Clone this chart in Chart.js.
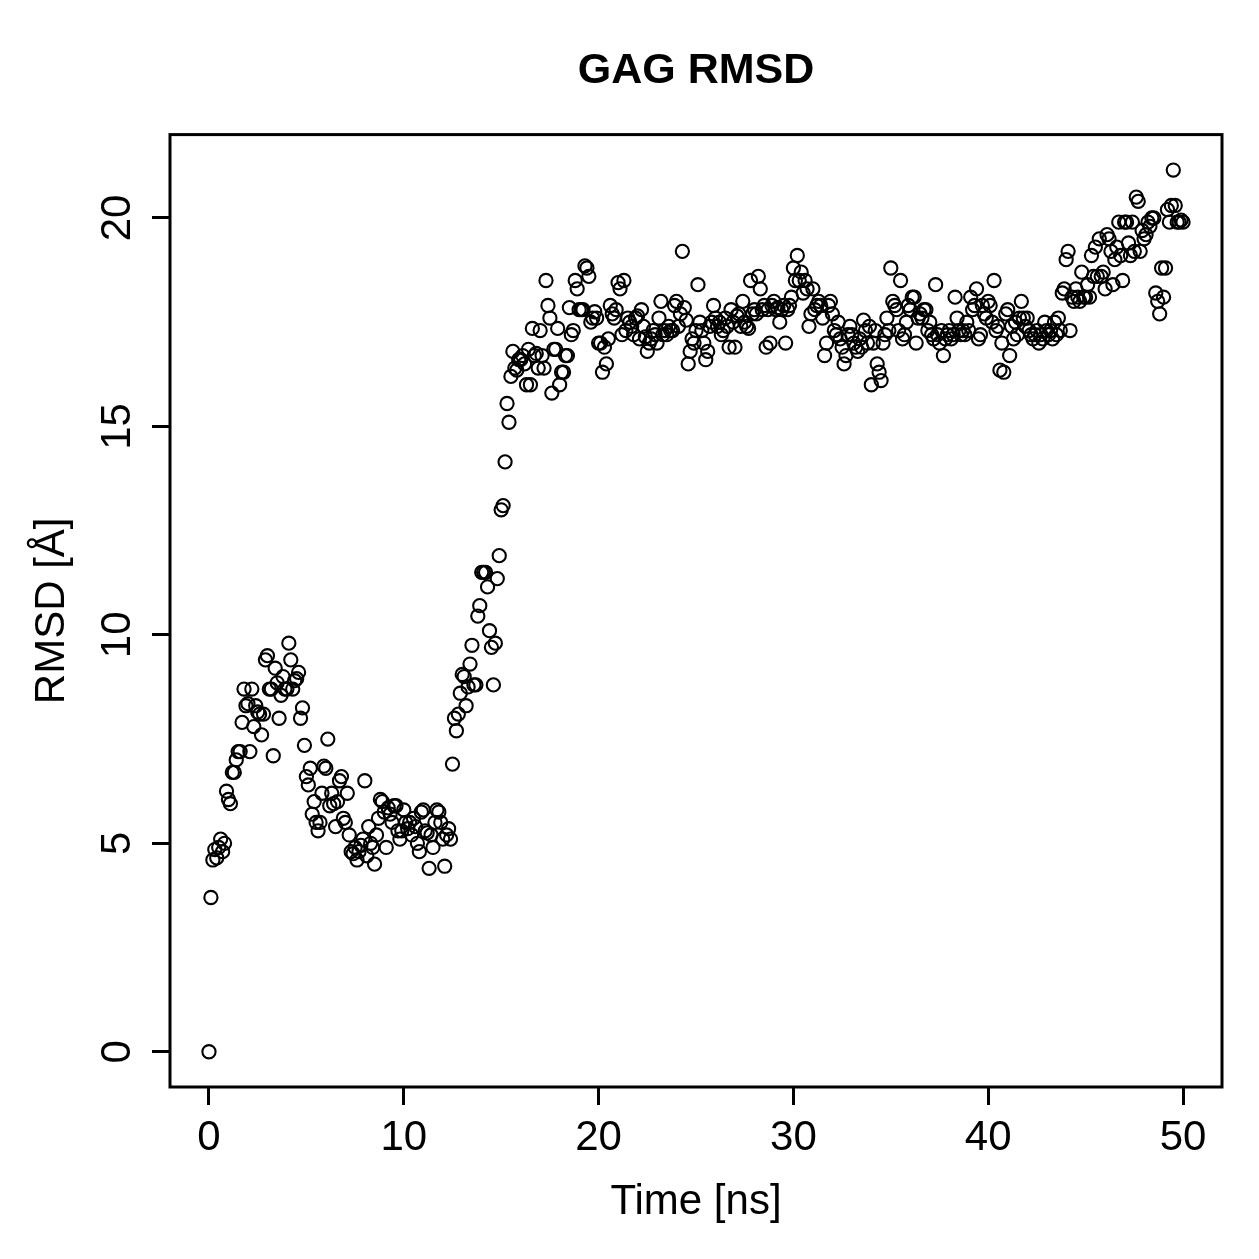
<!DOCTYPE html>
<html>
<head>
<meta charset="utf-8">
<script src="https://cdn.jsdelivr.net/npm/chart.js@4/dist/chart.umd.min.js"></script>
<style>
  html, body { margin: 0; padding: 0; background: #fff; }
  #wrap { width: 1259px; height: 1259px; }
</style>
</head>
<body>
<div id="wrap"><canvas id="c" width="1259" height="1259"></canvas></div>
<script>
// ---- data ----
const chartTitle = "GAG RMSD";
const xAxisTitle = "Time [ns]";
const yAxisTitle = "RMSD [Å]";
const startTime = 0;
const timeStep = 0.1;
const xTickValues = [0, 10, 20, 30, 40, 50];
const yTickValues = [0, 5, 10, 15, 20];
const rmsdValues = [
  0, 3.7, 4.6, 4.85, 4.65, 4.9, 5.1, 4.8, 5.0, 6.25,
  6.05, 5.95, 6.7, 6.7, 7.0, 7.2, 7.2, 7.9, 8.7, 8.3,
  8.35, 7.2, 8.7, 7.8, 8.3, 8.15, 8.1, 7.6, 8.1, 9.4,
  9.5, 8.7, 8.7, 7.1, 9.2, 8.85, 8.0, 8.55, 9.0, 8.7,
  8.7, 9.8, 9.4, 8.7, 8.9, 8.95, 9.1, 8.0, 8.25, 7.35,
  6.6, 6.4, 6.8, 5.7, 6.0, 5.5, 5.3, 5.5, 6.2, 6.85,
  6.8, 7.5, 5.9, 6.2, 5.95, 5.4, 6.0, 6.5, 6.6, 5.6,
  5.5, 6.2, 5.2, 4.8, 4.75, 4.9, 4.6, 4.8, 4.95, 5.1,
  6.5, 4.7, 5.4, 5.0, 4.9, 4.5, 5.2, 5.6, 6.05, 6.0,
  5.75, 4.9, 5.85, 5.7, 5.5, 5.9, 5.9, 5.3, 5.1, 5.3,
  5.8, 5.5, 5.35, 5.5, 5.2, 5.6, 5.4, 5.0, 4.8, 5.75,
  5.8, 5.3, 5.25, 4.4, 5.2, 4.9, 5.5, 5.8, 5.75, 5.5,
  5.1, 4.45, 5.2, 5.35, 5.1, 6.9, 8.0, 7.7, 8.1, 8.6,
  9.05, 9.0, 8.3, 8.75, 9.3, 9.75, 8.8, 8.8, 10.45, 10.7,
  11.5, 11.5, 11.5, 11.15, 10.1, 9.7, 8.8, 9.8, 11.35, 11.9,
  13.0, 13.1, 14.15, 15.55, 15.1, 16.2, 16.8, 16.4, 16.35, 16.6,
  16.6, 16.7, 16.5, 16.0, 16.85, 16.0, 17.35, 16.7, 16.75, 16.4,
  17.3, 16.7, 16.4, 18.5, 17.9, 17.6, 15.8, 16.85, 16.85, 17.35,
  16.0, 16.3, 16.3, 16.7, 16.7, 17.85, 17.2, 17.3, 18.5, 18.3,
  17.8, 17.8, 17.8, 18.85, 18.8, 18.6, 17.5, 17.6, 17.75, 17.6,
  17.0, 17.0, 16.3, 16.9, 16.5, 17.1, 17.9, 17.7, 17.6, 17.8,
  18.45, 18.3, 17.2, 18.5, 17.3, 17.6, 17.5, 17.4, 17.2, 17.6,
  17.65, 17.1, 17.8, 17.4, 17.15, 16.8, 17.0, 17.1, 17.3, 17.2,
  17.0, 17.6, 18.0, 17.2, 17.3, 17.2, 17.4, 17.3, 17.3, 17.9,
  18.0, 17.4, 17.7, 19.2, 17.85, 17.55, 16.5, 16.8, 17.1, 17.0,
  17.3, 18.4, 17.5, 17.3, 17.0, 16.6, 16.8, 17.4, 17.5, 17.9,
  17.6, 17.4, 17.5, 17.2, 17.3, 17.6, 17.4, 16.9, 17.8, 17.5,
  16.9, 17.65, 17.7, 17.4, 18.0, 17.5, 17.4, 17.35, 18.5, 17.7,
  17.8, 17.7, 18.6, 18.3, 17.8, 17.9, 16.9, 17.8, 17.0, 17.9,
  18.0, 17.8, 17.85, 17.5, 17.8, 17.9, 17.0, 17.8, 17.9, 18.1,
  18.8, 18.5, 19.1, 18.5, 18.7, 18.2, 18.5, 18.3, 17.4, 17.7,
  18.3, 17.8, 17.9, 18.0, 17.9, 17.6, 16.7, 17.0, 17.9, 18.0,
  17.7, 17.3, 17.2, 17.5, 17.1, 16.9, 16.5, 16.7, 17.2, 17.4,
  17.2, 17.0, 16.9, 16.8, 17.1, 16.9, 17.55, 17.3, 17.0, 17.4,
  16.0, 17.0, 17.3, 16.5, 16.3, 16.1, 17.0, 17.2, 17.6, 17.3,
  18.8, 18.0, 17.9, 17.8, 17.3, 18.5, 17.1, 17.2, 17.5, 17.9,
  17.8, 18.1, 18.1, 17.0, 17.6, 17.7, 17.6, 17.8, 17.8, 17.3,
  17.5, 17.2, 17.1, 18.4, 17.2, 17.0, 17.3, 16.7, 17.1, 17.2,
  17.3, 17.1, 17.2, 18.1, 17.6, 17.3, 17.2, 17.3, 17.2, 17.5,
  17.3, 18.1, 17.8, 17.9, 18.3, 17.1, 17.2, 17.9, 17.7, 17.6,
  18.0, 17.9, 17.5, 18.5, 17.3, 17.4, 16.35, 17.0, 16.3, 17.7,
  17.8, 16.7, 17.4, 17.1, 17.5, 17.2, 17.6, 18.0, 17.6, 17.4,
  17.6, 17.3, 17.2, 17.1, 17.2, 17.3, 17.0, 17.2, 17.1, 17.5,
  17.3, 17.2, 17.3, 17.1, 17.5, 17.2, 17.6, 17.3, 18.2, 18.3,
  19.0, 19.2, 17.3, 18.1, 18.0, 18.3, 18.1, 18.0, 18.7, 18.1,
  18.1, 18.4, 18.1, 19.1, 18.6, 19.3, 18.6, 19.5, 18.6, 18.7,
  18.3, 19.6, 19.5, 19.2, 18.4, 19.0, 19.3, 19.9, 19.1, 18.5,
  19.9, 19.9, 19.4, 19.1, 19.9, 19.2, 20.5, 20.4, 19.2, 19.7,
  19.5, 19.6, 19.9, 19.8, 20.0, 20.0, 18.2, 18.0, 17.7, 18.8,
  18.1, 18.8, 20.2, 19.9, 20.3, 21.15, 20.3, 19.9, 19.9, 19.95,
  19.9
];

// ---- build points ----
const points = rmsdValues.map((v, i) => ({ x: startTime + i * timeStep, y: v }));

const FONT = "'Liberation Sans', Arial, Helvetica, sans-serif";

const boxPlugin = {
  id: 'boxPlugin',
  afterDraw(chart) {
    const a = chart.chartArea;
    const ctx = chart.ctx;
    ctx.save();
    ctx.strokeStyle = '#000';
    ctx.lineWidth = 3;
    ctx.strokeRect(a.left, a.top, a.right - a.left, a.bottom - a.top);
    ctx.restore();
  }
};

new Chart(document.getElementById('c'), {
  type: 'scatter',
  data: {
    datasets: [{
      data: points,
      showLine: false,
      pointStyle: 'circle',
      pointRadius: 6.6,
      pointBorderWidth: 2.1,
      pointBorderColor: '#000',
      pointBackgroundColor: 'rgba(0,0,0,0)',
      borderColor: '#000',
      backgroundColor: 'rgba(0,0,0,0)'
    }]
  },
  options: {
    responsive: false,
    animation: false,
    events: [],
    layout: { padding: { left: 0, right: 37, top: 0, bottom: 0 } },
    plugins: {
      legend: { display: false },
      tooltip: { enabled: false },
      title: {
        display: true,
        text: chartTitle,
        fullSize: false,
        color: '#000',
        font: { family: FONT, size: 43, weight: 'bold', lineHeight: 1.2 },
        padding: { top: 45, bottom: 38 }
      }
    },
    scales: {
      x: {
        type: 'linear',
        min: -2,
        max: 52,
        afterBuildTicks(scale) { scale.ticks = xTickValues.map(v => ({ value: v })); },
        afterFit(scale) { scale.height = 172; },
        grid: { display: true, drawOnChartArea: false, drawTicks: true, tickLength: 18, tickColor: '#000', tickWidth: 3 },
        border: { display: false },
        ticks: { color: '#000', font: { family: FONT, size: 42 }, padding: 8, maxRotation: 0, minRotation: 0 },
        title: { display: true, text: xAxisTitle, color: '#000', font: { family: FONT, size: 42, lineHeight: 1.2 }, padding: { top: 0, bottom: 31 } }
      },
      y: {
        type: 'linear',
        min: -0.846,
        max: 22.0,
        afterBuildTicks(scale) { scale.ticks = yTickValues.map(v => ({ value: v })); },
        afterFit(scale) { scale.width = 170; },
        grid: { display: true, drawOnChartArea: false, drawTicks: true, tickLength: 18, tickColor: '#000', tickWidth: 3 },
        border: { display: false },
        ticks: { color: '#000', font: { family: FONT, size: 42 }, padding: 10, minRotation: 90, maxRotation: 90, crossAlign: 'center' },
        title: { display: true, text: yAxisTitle, color: '#000', font: { family: FONT, size: 42, lineHeight: 1.2 }, padding: { top: 27, bottom: 0 } }
      }
    }
  },
  plugins: [boxPlugin]
});
</script>
</body>
</html>
